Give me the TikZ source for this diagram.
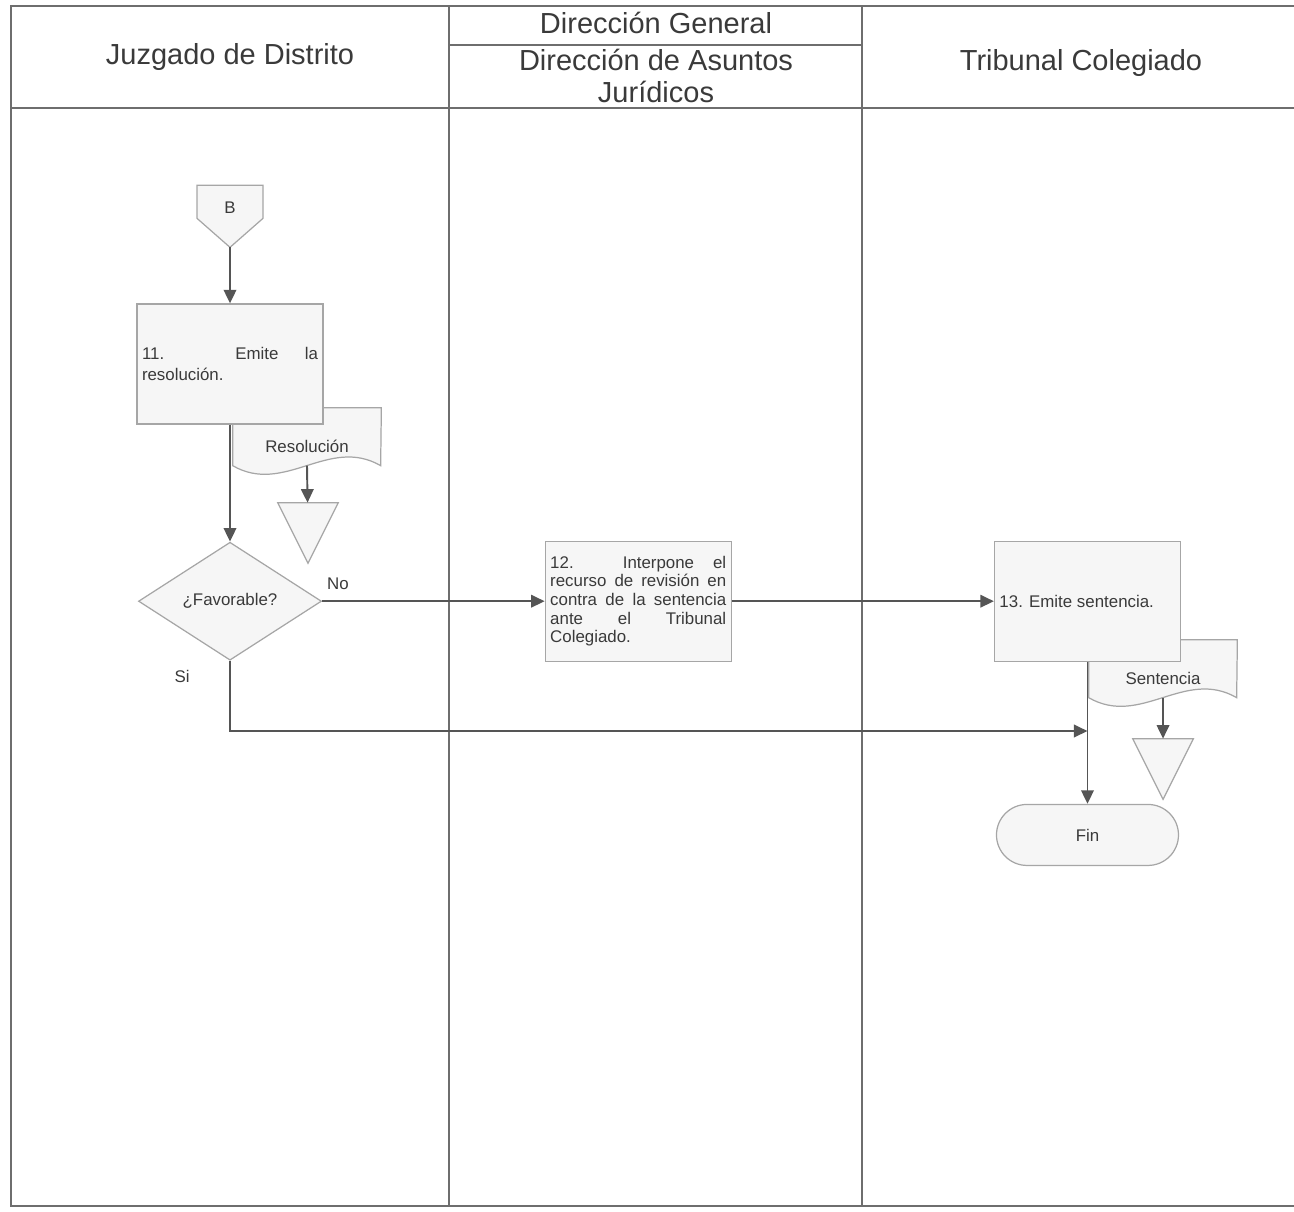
\documentclass[tikz,border=0pt]{standalone}
\usepackage{fontspec}
\setmainfont{Liberation Sans}
\usepackage{xcolor}
\usepackage{tikz}
\usetikzlibrary{positioning,arrows.meta,shapes.geometric,calc}
\definecolor{lanegray}{HTML}{6E6E6E}
\definecolor{boxgray}{HTML}{A6A6A6}
\definecolor{fillgray}{HTML}{F6F6F6}
\definecolor{txtgray}{HTML}{3A3A3A}
\definecolor{flowgray}{HTML}{555555}
\newcommand{\flowfont}{\fontsize{9.6}{10.6}\selectfont}
\pgfdeclarelayer{bg}
\pgfsetlayers{bg,main}
\tikzset{
lane/.style={
draw=lanegray,
line width=0.7pt
},
header/.style={
align=center,
text=txtgray,
font=\fontsize{16.5}{18.2}\selectfont
},
activity/.style={
draw=boxgray,
fill=fillgray,
line width=0.7pt,
minimum width=37.2mm,
minimum height=24mm,
inner xsep=0.8mm,
text width=35.2mm,
align=justify,
text=txtgray,
font=\flowfont
},
decision/.style={
diamond,
draw=boxgray,
fill=fillgray,
line width=0.7pt,
minimum width=36.6mm,
minimum height=23.6mm,
inner sep=0pt,
text=txtgray,
font=\flowfont
},
terminal/.style={
draw=boxgray,
fill=fillgray,
line width=0.7pt,
rounded corners=6.1mm,
minimum width=36.4mm,
minimum height=12.2mm,
text=txtgray,
font=\flowfont
},
docbox/.style={
minimum width=29.6mm,
minimum height=15.2mm,
inner sep=0pt,
text=txtgray,
font=\flowfont
},
archive/.style={
minimum width=12mm,
minimum height=12mm,
inner sep=0pt
},
offpage/.style={
minimum width=13.2mm,
minimum height=15.6mm,
inner sep=0pt,
text=txtgray,
font=\flowfont
},
outline/.style={
draw=boxgray,
fill=fillgray,
line width=0.7pt
},
tag/.style={
inner sep=1pt,
text=txtgray,
font=\flowfont
},
flow/.style={
-{Triangle[length=2.7mm,width=2.5mm]},
draw=flowgray,
line width=1.1pt
}
}
\newcommand{\docoutline}[1]{%
\draw[outline] (#1.north west) -- (#1.north east) -- ($(#1.north west)+(148,58)$)
.. controls ($(#1.north west)+(96,28)$) and ($(#1.north west)+(52,88)$) .. ($(#1.north west)+(0,58)$) -- cycle;}
\newcommand{\archoutline}[1]{%
\draw[outline] (#1.north west) -- (#1.north east) -- (#1.south) -- cycle;}

\begin{document}
\begin{tikzpicture}[x=0.2mm,y=-0.2mm]
\useasboundingbox (0,0) rectangle (1294,1211);

\node[header](hjuz) at (230,57){Juzgado de Distrito};
\node[header](hgen) at (656,23){Dirección General};
\node[header](hasu) at (656,76){Dirección de Asuntos\\Jurídicos};
\node[header](htri) at (1081,63){Tribunal Colegiado};

\node[offpage](conB) at (230,208){B};
\node[activity,below=11.2mm of conB,font=\fontsize{9.6}{12}\selectfont](act11){11. Emite la\linebreak resolución.};
\node[decision,below=23.4mm of act11](fav){¿Favorable?};
\node[activity,right=44.5mm of fav](act12){12. Interpone el\linebreak recurso de revisión en\linebreak contra de la sentencia\linebreak ante el Tribunal\linebreak Colegiado.};
\node[activity,right=52.4mm of act12](act13){13. Emite sentencia.};
\node[terminal,below=28.4mm of act13](fin){Fin};

\node[docbox](rdoc) at (307,446){Resolución};
\node[archive](rarch) at (308,533){};
\node[docbox](sdoc) at (1163,678){Sentencia};
\node[archive](sarch) at (1163,769){};

\node[tag](lblno) at (338,584){No};
\node[tag](lblsi) at (182,676){Si};

\coordinate (rdocend) at ($(rdoc.north)+(0,58)$);
\coordinate (sdocend) at ($(sdoc.north)+(0,58)$);
\coordinate (sirow) at (0,731);
\coordinate (join) at (act13.south |- sirow);

\begin{pgfonlayer}{bg}
\draw[lane] (1294,6) -- (11,6) -- (11,1206) -- (1294,1206);
\draw[lane] (11,108) -- (1294,108);
\foreach \x in {449,862}
\draw[lane] (\x,6) -- (\x,1206);
\draw[lane] (449,45) -- (862,45);
\draw[outline] ($(conB.south)+(-33,-62)$) -- ($(conB.south)+(33,-62)$) -- ($(conB.south)+(33,-29)$)
-- (conB.south) -- ($(conB.south)+(-33,-29)$) -- cycle;
\docoutline{rdoc}
\docoutline{sdoc}
\archoutline{rarch}
\archoutline{sarch}
\end{pgfonlayer}

\foreach \x/\y in {conB/act11,act11/fav,fav/act12,act12/act13,act13/fin,rdocend/rarch,sdocend/sarch}
\draw[flow](\x)--(\y);
\draw[flow](fav.south)|-(join);
\end{tikzpicture}
\end{document}
